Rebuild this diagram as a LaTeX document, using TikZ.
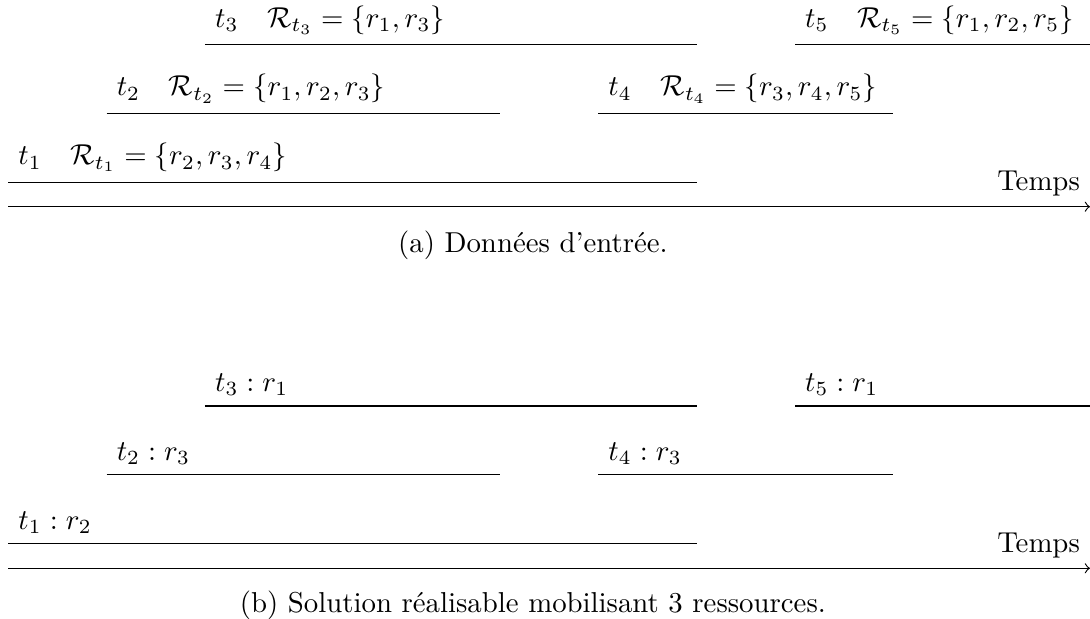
\documentclass[tikz,border=0pt]{standalone}
\usepackage{amsmath}
\usepackage{amsfonts}
\usepackage{amssymb}
\usetikzlibrary{arrows,positioning}

\begin{document}
\begin{tikzpicture}[x=1.2cm, y=1.2cm, >=to,
    task/.style={draw, line width=0.4pt},
    lbl/.style={inner sep=3.33pt},
    axe/.style={->}]
    \useasboundingbox (-0.0844,2.102) rectangle (11,-4.192);
    % (a) donnees d'entree
    \coordinate (a1s) at (0,0.25);  \coordinate (a1e) at (7,0.25);
    \coordinate (a2s) at (1,0.95);  \coordinate (a2e) at (5,0.95);
    \coordinate (a3s) at (2,1.65);  \coordinate (a3e) at (7,1.65);
    \coordinate (a4s) at (6,0.95);  \coordinate (a4e) at (9,0.95);
    \coordinate (a5s) at (8,1.65);  \coordinate (a5e) at (11,1.65);
    \coordinate (ta0) at (0,0);     \coordinate (ta1) at (11,0);
    \draw [task] (a1s) -- (a1e);
    \draw [task] (a2s) -- (a2e);
    \draw [task] (a3s) -- (a3e);
    \draw [task] (a4s) -- (a4e);
    \draw [task] (a5s) -- (a5e);
    \node [lbl, above right=0pt of a1s] (la1) {$t_1 \quad \mathcal{R}_{t_1} = \{r_2, r_3, r_4\}$};
    \node [lbl, above right=0pt of a2s] (la2) {$t_2 \quad \mathcal{R}_{t_2} = \{r_1, r_2, r_3\}$};
    \node [lbl, above right=0pt of a3s] (la3) {$t_3 \quad \mathcal{R}_{t_3} = \{r_1, r_3\}$};
    \node [lbl, above right=0pt of a4s] (la4) {$t_4 \quad \mathcal{R}_{t_4} = \{r_3, r_4, r_5\}$};
    \node [lbl, above right=0pt of a5s] (la5) {$t_5 \quad \mathcal{R}_{t_5} = \{r_1, r_2, r_5\}$};
    \draw [axe] (ta0) -- (ta1);
    \node [lbl, above left=0pt of ta1] (tpa) {Temps};
    \node (capa) at (5.335,-0.39) {(a) Données d'entrée.};
    % (b) solution realisable
    \coordinate (b1s) at (0,-3.427); \coordinate (b1e) at (7,-3.427);
    \coordinate (b2s) at (1,-2.727); \coordinate (b2e) at (5,-2.727);
    \coordinate (b3s) at (2,-2.027); \coordinate (b3e) at (7,-2.027);
    \coordinate (b4s) at (6,-2.727); \coordinate (b4e) at (9,-2.727);
    \coordinate (b5s) at (8,-2.027); \coordinate (b5e) at (11,-2.027);
    \coordinate (tb0) at (0,-3.677); \coordinate (tb1) at (11,-3.677);
    \draw [task] (b1s) -- (b1e);
    \draw [task] (b2s) -- (b2e);
    \draw [task] (b3s) -- (b3e);
    \draw [task] (b4s) -- (b4e);
    \draw [task] (b5s) -- (b5e);
    \node [lbl, above right=0pt of b1s] (lb1) {$t_1 : r_2$};
    \node [lbl, above right=0pt of b2s] (lb2) {$t_2 : r_3$};
    \node [lbl, above right=0pt of b3s] (lb3) {$t_3 : r_1$};
    \node [lbl, above right=0pt of b4s] (lb4) {$t_4 : r_3$};
    \node [lbl, above right=0pt of b5s] (lb5) {$t_5 : r_1$};
    \draw [axe] (tb0) -- (tb1);
    \node [lbl, above left=0pt of tb1] (tpb) {Temps};
    \node (capb) at (5.335,-4.05) {(b) Solution réalisable mobilisant 3 ressources.};
\end{tikzpicture}
\end{document}
